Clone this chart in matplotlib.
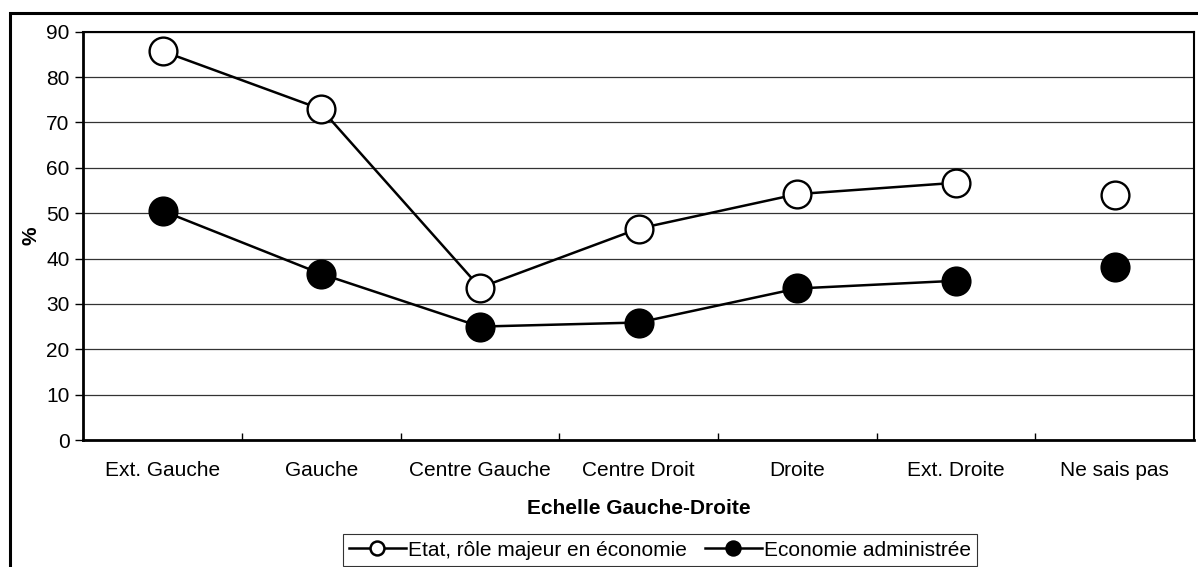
import matplotlib
matplotlib.use("Agg")
import matplotlib.pyplot as plt
from matplotlib.patches import Rectangle
from matplotlib.lines import Line2D
import numpy as np

categories = ["Ext. Gauche", "Gauche", "Centre Gauche", "Centre Droit",
              "Droite", "Ext. Droite", "Ne sais pas"]
etat = [85.7, 72.9, 33.6, 46.6, 54.2, 56.7, 54.0]
economie = [50.5, 36.6, 25.0, 25.9, 33.4, 35.1, 38.2]
series_names = ["Etat, rôle majeur en économie", "Economie administrée"]
yticks = [0, 10, 20, 30, 40, 50, 60, 70, 80, 90]

plt.rcParams['font.family'] = ['Liberation Sans', 'DejaVu Sans']
FS = 15

fig = plt.figure(figsize=(11.98, 5.67), dpi=100)
W, H = 1198, 567
# outer frame
fig.add_artist(Rectangle((9.6 / W, -0.1), 1.2, (1 - 13.3 / H) + 0.1,
                         transform=fig.transFigure, fill=False,
                         edgecolor='black', linewidth=2.2, clip_on=False))

ax = fig.add_axes([83.4 / W, 1 - 440 / H, (1194 - 83.4) / W, (440 - 31.7) / H])
x = np.arange(len(categories))
n = len(categories) - 1

ms = 20
mew = 1.7
lw = 1.8
ax.plot(x[:n], etat[:n], color='black', lw=lw, marker='o', ms=ms,
        mfc='white', mec='black', mew=mew, zorder=3)
ax.plot(x[n:], etat[n:], ls='none', marker='o', ms=ms,
        mfc='white', mec='black', mew=mew, zorder=3)
ax.plot(x[:n], economie[:n], color='black', lw=lw, marker='o', ms=ms,
        mfc='black', mec='black', mew=mew, zorder=3)
ax.plot(x[n:], economie[n:], ls='none', marker='o', ms=ms,
        mfc='black', mec='black', mew=mew, zorder=3)

ax.set_xlim(-0.5, len(categories) - 0.5)
ax.set_ylim(0, 90)
ax.set_yticks(yticks)
ax.set_yticklabels([str(v) for v in yticks], fontsize=FS)
ax.set_xticks(x)
ax.set_xticklabels(categories, fontsize=FS)
ax.tick_params(axis='x', length=0, pad=15)
ax.set_xticks(np.arange(0.5, len(categories) - 1, 1), minor=True)
ax.tick_params(axis='x', which='minor', direction='in', length=5, width=1)
ax.tick_params(axis='y', direction='out', length=6, width=1, pad=4)

for v in yticks[1:]:
    ax.axhline(v, color='#333333', lw=0.9, zorder=1)

for s in ['left', 'bottom']:
    ax.spines[s].set_linewidth(2.0)
for s in ['top', 'right']:
    ax.spines[s].set_linewidth(1.5)

ax.set_ylabel('%', fontsize=FS, fontweight='bold', labelpad=4)
ax.set_xlabel('Echelle Gauche-Droite', fontsize=FS, fontweight='bold', labelpad=14)

handles = [
    Line2D([], [], color='black', lw=lw, marker='o', ms=10, mfc='white', mec='black', mew=1.8),
    Line2D([], [], color='black', lw=lw, marker='o', ms=10, mfc='black', mec='black', mew=1.8),
]
leg = fig.legend(handles, series_names, loc='center', bbox_to_anchor=(660 / W, 1 - 550 / H),
                 ncol=2, fontsize=FS, frameon=True, fancybox=False, edgecolor='black',
                 handlelength=2.7, handletextpad=0.1, columnspacing=0.9,
                 borderpad=0.3, borderaxespad=0)
leg.get_frame().set_linewidth(0.8)

fig.savefig('out.png', dpi=100)
